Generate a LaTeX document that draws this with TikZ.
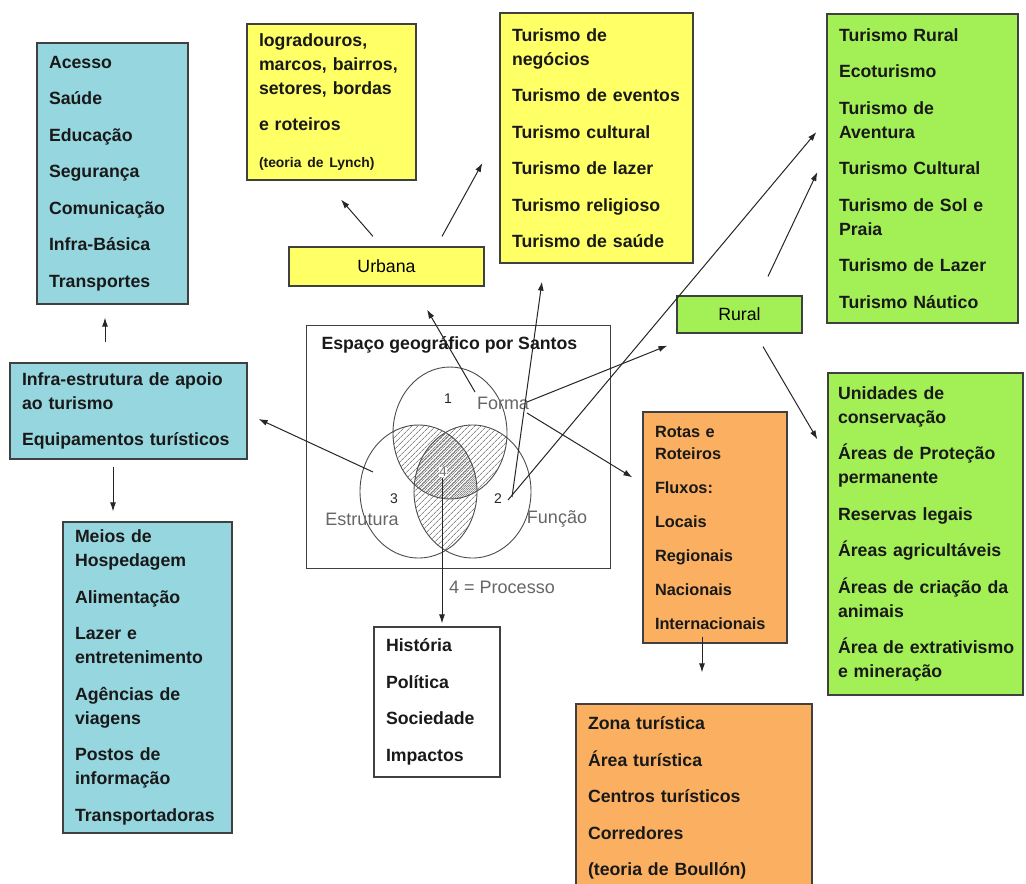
\documentclass[tikz,border=0pt]{standalone}
\usepackage{fontspec}
\setmainfont{Liberation Sans}
\usetikzlibrary{arrows.meta,patterns.meta}

\definecolor{cyanbox}{RGB}{150,214,222}
\definecolor{yellowbox}{RGB}{255,255,102}
\definecolor{greenbox}{RGB}{163,240,86}
\definecolor{orangebox}{RGB}{250,176,96}

\newcommand{\itemfont}{\fontsize{17.7}{24}\selectfont\bfseries}
\newcommand{\itemgap}{\\[12.5pt]}

\begin{document}
\begin{tikzpicture}[x=1pt,y=-1pt,
    box/.style={draw=black!75, line width=1.2pt, align=left, inner xsep=12pt, inner ysep=0pt, font=\itemfont, text=black!90},
    tag/.style={draw=black!75, line width=1.2pt, font=\fontsize{17.7}{24}\selectfont, inner sep=0pt},
    venn/.style={font=\fontsize{18}{22}\selectfont, text=black!60},
    digit/.style={font=\fontsize{14}{16}\selectfont, text=black!85},
    arr/.style={-{Latex[length=9pt,width=6pt]}, line width=1pt, black!85},
    hatch/.style={pattern={Lines[angle=45,distance=4pt,line width=0.6pt]}, pattern color=black!70}]
    \path[use as bounding box, fill=white] (0,0) rectangle (1026,884);

    % left column
    \node[box, fill=cyanbox, text width=127pt, minimum height=261pt] (acesso) at (112.5,173.5)
        {Acesso\itemgap Saúde\itemgap Educação\itemgap Segurança\itemgap Comunicação\itemgap Infra-Básica\itemgap Transportes};
    \node[box, fill=cyanbox, text width=213pt, minimum height=96pt] (infra) at (128.5,411)
        {Infra-estrutura de apoio\\ao turismo\itemgap Equipamentos turísticos};
    \node[box, fill=cyanbox, text width=145pt, minimum height=311pt] (meios) at (147.5,677.5)
        {Meios de\\Hospedagem\itemgap Alimentação\itemgap Lazer e\\entretenimento\itemgap Agências de\\viagens\itemgap Postos de\\informação\itemgap Transportadoras};

    % urbana
    \node[box, fill=yellowbox, text width=145pt, minimum height=156pt] (lynch) at (331.5,102)
        {logradouros,\\marcos, bairros,\\setores, bordas\itemgap e roteiros\itemgap {\fontsize{13.9}{17}\selectfont (teoria de Lynch)}};
    \node[box, fill=yellowbox, text width=169pt, minimum height=250pt] (negocios) at (596.5,138)
        {Turismo de\\negócios\itemgap Turismo de eventos\itemgap Turismo cultural\itemgap Turismo de lazer\itemgap Turismo religioso\itemgap Turismo de saúde};
    \node[tag, fill=yellowbox, minimum width=195pt, minimum height=39pt] (urbana) at (386.5,266.5) {Urbana};

    % rural
    \node[box, fill=greenbox, text width=167pt, minimum height=309pt] (turrural) at (922.5,168.5)
        {Turismo Rural\itemgap Ecoturismo\itemgap Turismo de\\Aventura\itemgap Turismo Cultural\itemgap Turismo de Sol e\\Praia\itemgap Turismo de Lazer\itemgap Turismo Náutico};
    \node[tag, fill=greenbox, minimum width=125pt, minimum height=37pt] (rural) at (739.5,314.5) {Rural};
    \node[box, fill=greenbox, inner xsep=10pt, text width=175pt, minimum height=322pt] (unidades) at (925.5,534)
        {Unidades de\\conservação\itemgap Áreas de Proteção\\permanente\itemgap Reservas legais\itemgap Áreas agricultáveis\itemgap Áreas de criação da\\animais\itemgap \mbox{Área de extrativismo}\\e mineração};

    % fluxos
    \node[box, fill=orangebox, text width=120pt, minimum height=231pt, font=\fontsize{16.3}{22}\selectfont\bfseries] (rotas) at (715,527.5)
        {Rotas e\\Roteiros\\[12pt]Fluxos:\\[12pt]Locais\\[12pt]Regionais\\[12pt]Nacionais\\[12pt]Internacionais};
    \node[box, fill=orangebox, text width=212pt, minimum height=188pt] (zona) at (694,798)
        {Zona turística\itemgap Área turística\itemgap Centros turísticos\itemgap Corredores\itemgap (teoria de Boullón)};
    \node[box, fill=white, text width=102pt, minimum height=150pt] (historia) at (437,702)
        {História\itemgap Política\itemgap Sociedade\itemgap Impactos};

    % espaco geografico
    \node[draw=black!75, line width=1pt, fill=white, minimum width=304pt, minimum height=243pt] (espaco) at (458,446.5) {};
    \node[font=\itemfont, text=black!90, anchor=west] (titulo) at (318,345) {Espaço geográfico por Santos};
    \begin{scope}
        \clip (450,433) ellipse (57pt and 66pt);
        \fill[hatch] (418.5,491.5) ellipse (58.5pt and 66.5pt);
        \fill[hatch] (472.5,491.5) ellipse (58.5pt and 66.5pt);
    \end{scope}
    \begin{scope}
        \clip (418.5,491.5) ellipse (58.5pt and 66.5pt);
        \fill[hatch] (472.5,491.5) ellipse (58.5pt and 66.5pt);
    \end{scope}
    \draw[black!70, line width=0.9pt] (450,433) ellipse (57pt and 66pt);
    \draw[black!70, line width=0.9pt] (418.5,491.5) ellipse (58.5pt and 66.5pt);
    \draw[black!70, line width=0.9pt] (472.5,491.5) ellipse (58.5pt and 66.5pt);
    \node[digit] (um) at (448,399) {1};
    \node[digit] (dois) at (498,499) {2};
    \node[digit] (tres) at (394,499) {3};
    \node[digit, text=black!55, fill=white, inner sep=0.5pt] (quatro) at (443,472) {4};
    \node[venn] (forma) at (503,403) {Forma};
    \node[venn] (estrutura) at (362,519) {Estrutura};
    \node[venn] (funcao) at (557,519) {Função};
    \node[venn] (processo) at (502,587) {4 = Processo};

    % arrows
    \draw[arr] ([xshift=-23.5pt,yshift=20pt]infra.north) -- ([xshift=-7.5pt,yshift=-13pt]acesso.south);
    \draw[arr] ([xshift=-15.5pt,yshift=-7pt]infra.south) -- ([xshift=-34.5pt,yshift=10pt]meios.north);
    \draw[arr] ([xshift=-21pt,yshift=27pt]tres.center) -- ([xshift=11pt,yshift=-8pt]infra.east);
    \draw[arr] ([xshift=-13.5pt,yshift=10pt]urbana.north) -- ([xshift=9.5pt,yshift=-19pt]lynch.south);
    \draw[arr] ([xshift=55.5pt,yshift=10pt]urbana.north) -- ([xshift=-17pt,yshift=-25pt]negocios.west);
    \draw[arr] ([xshift=-28pt,yshift=11pt]forma.center) -- ([xshift=40.5pt,yshift=-23pt]urbana.south);
    \draw[arr] ([xshift=14pt,yshift=2pt]dois.center) -- ([xshift=-54.5pt,yshift=-18pt]negocios.south);
    \draw[arr] ([xshift=10pt,yshift=-1pt]dois.center) -- ([xshift=-10pt,yshift=36.5pt]turrural.west);
    \draw[arr] ([xshift=24pt,yshift=1pt]forma.center) -- ([xshift=-9pt,yshift=-12pt]rural.south west);
    \draw[arr] ([xshift=24pt,yshift=-10pt]forma.center) -- ([xshift=-10pt,yshift=-66pt]rotas.north west);
    \draw[arr] ([xshift=23.5pt,yshift=-13pt]rural.south) -- ([xshift=-10pt,yshift=-67pt]unidades.north west);
    \draw[arr] ([xshift=28.5pt,yshift=19pt]rural.north) -- ([xshift=-9pt,yshift=-3.5pt]turrural.west);
    \draw[arr] ([xshift=-1pt,yshift=-6pt]quatro.center) -- ([xshift=5pt,yshift=3pt]historia.north);
    \draw[arr] ([xshift=-13pt,yshift=7pt]rotas.south) -- ([xshift=8pt,yshift=31pt]zona.north);
\end{tikzpicture}
\end{document}
